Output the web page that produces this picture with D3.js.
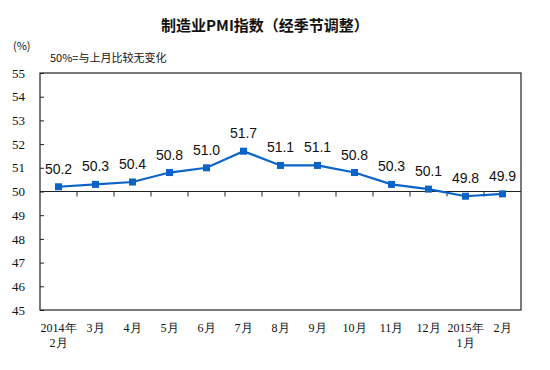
<!DOCTYPE html>
<html><head><meta charset="utf-8">
<script src="https://cdn.jsdelivr.net/npm/d3@7/dist/d3.min.js"></script>
<style>body{margin:0;background:#fff}</style>
</head><body>
<svg id="c" width="550" height="370"></svg>
<script>
const categories = ["2014年\n2月","3月","4月","5月","6月","7月","8月","9月","10月","11月","12月","2015年\n1月","2月"];
const pmi = [50.2,50.3,50.4,50.8,51.0,51.7,51.1,51.1,50.8,50.3,50.1,49.8,49.9];
const yTicks = [45,46,47,48,49,50,51,52,53,54,55];

const svg = d3.select("#c");
const L=40,R=521,T=73,B=310;
const x = d3.scaleBand().domain(d3.range(categories.length)).range([L,R]);
const y = d3.scaleLinear().domain([45,55]).range([B,T]);
const cjk = "'Noto Sans CJK SC', sans-serif";
const serif = "'Liberation Serif','DejaVu Serif', serif";

svg.append("text").attr("x",265).attr("y",31).attr("text-anchor","middle")
  .attr("font-family",cjk).attr("font-weight","bold").attr("font-size",15).attr("fill","#111")
  .text("制造业PMI指数（经季节调整）");
svg.append("text").attr("x",13).attr("y",50).attr("font-family",cjk).attr("font-size",11).attr("fill","#111").text("(%)");
svg.append("text").attr("x",50).attr("y",62).attr("font-family",cjk).attr("font-size",11).attr("fill","#111").text("50%=与上月比较无变化");

// frame
svg.append("rect").attr("x",L).attr("y",T).attr("width",R-L).attr("height",B-T)
  .attr("fill","none").attr("stroke","#222").attr("stroke-width",1.2);

// y axis
const yAxis = d3.axisLeft(y).tickValues(yTicks).tickSize(-4).tickPadding(15).tickFormat(d3.format("d"));
const ya = svg.append("g").attr("transform",`translate(${L},0)`).call(yAxis);
ya.select(".domain").remove();
ya.selectAll("line").attr("stroke","#222");
ya.selectAll("text").attr("font-family",serif).attr("font-size",13).attr("fill","#111");

// 50 baseline
svg.append("line").attr("x1",L).attr("x2",R).attr("y1",y(50)).attr("y2",y(50)).attr("stroke","#222").attr("stroke-width",1.2);
// x ticks at band boundaries on 50 line
const bounds = d3.range(1,categories.length).map(i=>x(i));
svg.selectAll(".xt").data(bounds).join("line").attr("x1",d=>d).attr("x2",d=>d)
  .attr("y1",y(50)).attr("y2",y(50)+5).attr("stroke","#222");

// x labels
const xl = svg.selectAll(".xl").data(categories).join("text")
  .attr("text-anchor","middle").attr("font-family",serif).attr("font-size",12).attr("fill","#111");
xl.each(function(d,i){
  const lines=d.split("\n");
  d3.select(this).selectAll("tspan").data(lines).join("tspan")
    .attr("x",x(i)+x.bandwidth()/2).attr("y",(l,j)=>332+j*15).text(l=>l);
});

// line
const cx = i=>x(i)+x.bandwidth()/2;
svg.append("path").datum(pmi).attr("fill","none").attr("stroke","#0a64c8").attr("stroke-width",2.2)
  .attr("d",d3.line().x((d,i)=>cx(i)).y(d=>y(d)));
svg.selectAll(".pt").data(pmi).join("rect").attr("x",(d,i)=>cx(i)-3.5).attr("y",d=>y(d)-3.5)
  .attr("width",7).attr("height",7).attr("fill","#0a64c8");
svg.selectAll(".lb").data(pmi).join("text").attr("x",(d,i)=>cx(i)).attr("y",d=>y(d)-13)
  .attr("text-anchor","middle").attr("font-family","'Liberation Sans', Arial, sans-serif").attr("font-size",14).attr("fill","#111")
  .text(d=>d.toFixed(1));
</script>
</body></html>
